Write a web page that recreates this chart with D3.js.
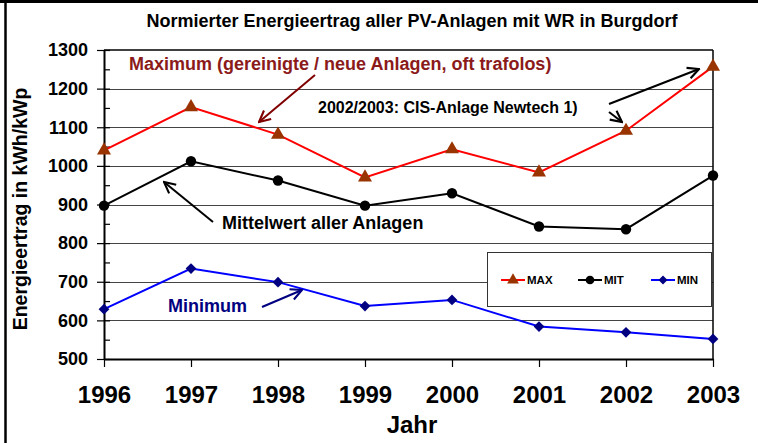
<!DOCTYPE html>
<html>
<head>
<meta charset="utf-8">
<script src="https://cdn.jsdelivr.net/npm/d3@7"></script>
<style>
body { margin: 0; background: #fff; }
svg { display: block; font-family: "Liberation Sans", Arial, sans-serif; font-weight: bold; }
</style>
</head>
<body>
<div id="chart"></div>
<script>
var years = ["1996", "1997", "1998", "1999", "2000", "2001", "2002", "2003"];
var maxVals = [1040, 1152, 1081, 970, 1043, 983, 1091, 1257];
var mitVals = [897, 1012, 962, 897, 929, 843, 836, 975];
var minVals = [629, 734, 699, 637, 653, 584, 569, 552];
var yTicks = [500, 600, 700, 800, 900, 1000, 1100, 1200, 1300];
var minorTicks = d3.range(500, 1301, 50);

var width = 758, height = 443;
var plotL = 104, plotR = 713, plotT = 50, plotB = 359;

var svg = d3.select("#chart").append("svg")
  .attr("width", width)
  .attr("height", height);

// outer frame (top + left only visible)
svg.append("line").attr("x1", 0).attr("x2", width).attr("y1", 1.5).attr("y2", 1.5)
  .attr("stroke", "#000").attr("stroke-width", 3);
svg.append("line").attr("x1", 5.5).attr("x2", 5.5).attr("y1", 0).attr("y2", height)
  .attr("stroke", "#000").attr("stroke-width", 2.5);

var x = d3.scalePoint().domain(years).range([plotL, plotR]).padding(0);
var y = d3.scaleLinear().domain([500, 1300]).range([plotB, plotT]);

// gridlines
svg.append("g").selectAll("line")
  .data(yTicks.filter(function(d) { return d > 500 && d < 1300; }))
  .enter().append("line")
    .attr("x1", plotL).attr("x2", plotR)
    .attr("y1", function(d) { return Math.round(y(d)) + 0.5; })
    .attr("y2", function(d) { return Math.round(y(d)) + 0.5; })
    .attr("stroke", "#444").attr("stroke-width", 1);

// plot box top / right
svg.append("line").attr("x1", plotL).attr("x2", plotR).attr("y1", plotT).attr("y2", plotT)
  .attr("stroke", "#000").attr("stroke-width", 1.5);
svg.append("line").attr("x1", plotR).attr("x2", plotR).attr("y1", plotT).attr("y2", plotB)
  .attr("stroke", "#000").attr("stroke-width", 1.5);

// y axis
var yAxis = svg.append("g")
  .attr("transform", "translate(" + plotL + ",0)")
  .call(d3.axisLeft(y).tickValues(yTicks).tickFormat(d3.format("d"))
    .tickSize(7).tickPadding(9).tickSizeOuter(0));
yAxis.select(".domain").attr("stroke-width", 2);
yAxis.selectAll("line").attr("stroke-width", 1.2);
yAxis.selectAll("text").attr("font-size", 18).attr("font-family", "Liberation Sans, Arial, sans-serif")
  .attr("font-weight", "bold").attr("fill", "#000");

var yMinor = svg.append("g")
  .attr("transform", "translate(" + plotL + ",0)")
  .call(d3.axisRight(y).tickValues(minorTicks).tickSize(6).tickFormat("").tickSizeOuter(0));
yMinor.select(".domain").remove();
yMinor.selectAll("line").attr("stroke-width", 1.2);

// x axis
var xAxis = svg.append("g")
  .attr("transform", "translate(0," + plotB + ")")
  .call(d3.axisBottom(x).tickSize(8).tickSizeOuter(0));
xAxis.select(".domain").attr("stroke-width", 2);
xAxis.selectAll("line").attr("stroke-width", 1.2);
xAxis.selectAll("text").attr("y", 44).attr("dy", null).attr("font-size", 24)
  .attr("font-family", "Liberation Sans, Arial, sans-serif").attr("font-weight", "bold").attr("fill", "#000");

// titles
svg.append("text").attr("x", 412).attr("y", 27).attr("text-anchor", "middle")
  .attr("font-size", 18).text("Normierter Energieertrag aller PV-Anlagen mit WR in Burgdorf");
svg.append("text").attr("x", 412).attr("y", 433).attr("text-anchor", "middle")
  .attr("font-size", 24).text("Jahr");
svg.append("text").attr("transform", "translate(27,209) rotate(-90)").attr("text-anchor", "middle")
  .attr("font-size", 19.5).text("Energieertrag in kWh/kWp");

// series
var series = [
  { name: "MAX", vals: maxVals, line: "#ff0000", fill: "#993300", shape: d3.symbolTriangle, size: 85, rot: 0 },
  { name: "MIT", vals: mitVals, line: "#000000", fill: "#000000", shape: d3.symbolCircle, size: 85, rot: 0 },
  { name: "MIN", vals: minVals, line: "#0000ff", fill: "#000080", shape: d3.symbolSquare, size: 58, rot: 45 }
];

var line = d3.line()
  .x(function(d, i) { return x(years[i]); })
  .y(function(d) { return y(d); });

series.forEach(function(s) {
  svg.append("path").datum(s.vals)
    .attr("d", line).attr("fill", "none")
    .attr("stroke", s.line).attr("stroke-width", 2);
  svg.append("g").selectAll("path")
    .data(s.vals).enter().append("path")
      .attr("d", d3.symbol().type(s.shape).size(s.size))
      .attr("transform", function(d, i) {
        return "translate(" + x(years[i]) + "," + y(d) + ") rotate(" + s.rot + ")";
      })
      .attr("fill", s.fill);
});

// annotations
var defs = svg.append("defs");
function marker(id, color) {
  defs.append("marker").attr("id", id)
    .attr("viewBox", "0 0 10 10").attr("refX", 9).attr("refY", 5)
    .attr("markerWidth", 7).attr("markerHeight", 7).attr("orient", "auto")
    .append("path").attr("d", "M1,1 L9,5 L1,9").attr("fill", "none")
    .attr("stroke", color).attr("stroke-width", 1.5);
}
marker("arDarkRed", "#800000");
marker("arBlack", "#000");
marker("arNavy", "#000080");

function arrow(x1, y1, x2, y2, color, id) {
  svg.append("line").attr("x1", x1).attr("y1", y1).attr("x2", x2).attr("y2", y2)
    .attr("stroke", color).attr("stroke-width", 2).attr("marker-end", "url(#" + id + ")");
}

svg.append("text").attr("x", 129).attr("y", 70).attr("font-size", 18)
  .attr("fill", "#8b1a1a").text("Maximum (gereinigte / neue Anlagen, oft trafolos)");
arrow(315, 75, 259, 122, "#800000", "arDarkRed");

svg.append("text").attr("x", 318).attr("y", 113).attr("font-size", 16)
  .attr("fill", "#000").text("2002/2003: CIS-Anlage Newtech 1)");
arrow(609, 104, 699, 69, "#000", "arBlack");
arrow(609, 112, 622, 122, "#000", "arBlack");

svg.append("text").attr("x", 222).attr("y", 229).attr("font-size", 18)
  .attr("fill", "#000").text("Mittelwert aller Anlagen");
arrow(213, 222, 164, 182, "#000", "arBlack");

svg.append("text").attr("x", 168).attr("y", 312).attr("font-size", 18)
  .attr("fill", "#000080").text("Minimum");
arrow(262, 307, 302, 290, "#000080", "arNavy");

// legend
var lg = svg.append("g");
lg.append("rect").attr("x", 487.5).attr("y", 252.5).attr("width", 224).attr("height", 54)
  .attr("fill", "#fff").attr("stroke", "#333").attr("stroke-width", 1);
var legX = [501, 578, 651];
series.forEach(function(s, i) {
  var gx = legX[i], gy = 280;
  lg.append("line").attr("x1", gx).attr("x2", gx + 24).attr("y1", gy).attr("y2", gy)
    .attr("stroke", s.line).attr("stroke-width", 2);
  lg.append("path").attr("d", d3.symbol().type(s.shape).size(s.size * 0.7))
    .attr("transform", "translate(" + (gx + 12) + "," + gy + ") rotate(" + s.rot + ")").attr("fill", s.fill);
  lg.append("text").attr("x", gx + 26).attr("y", gy + 4).attr("font-size", 11.5)
    .attr("fill", "#000").text(s.name);
});
</script>
</body>
</html>
